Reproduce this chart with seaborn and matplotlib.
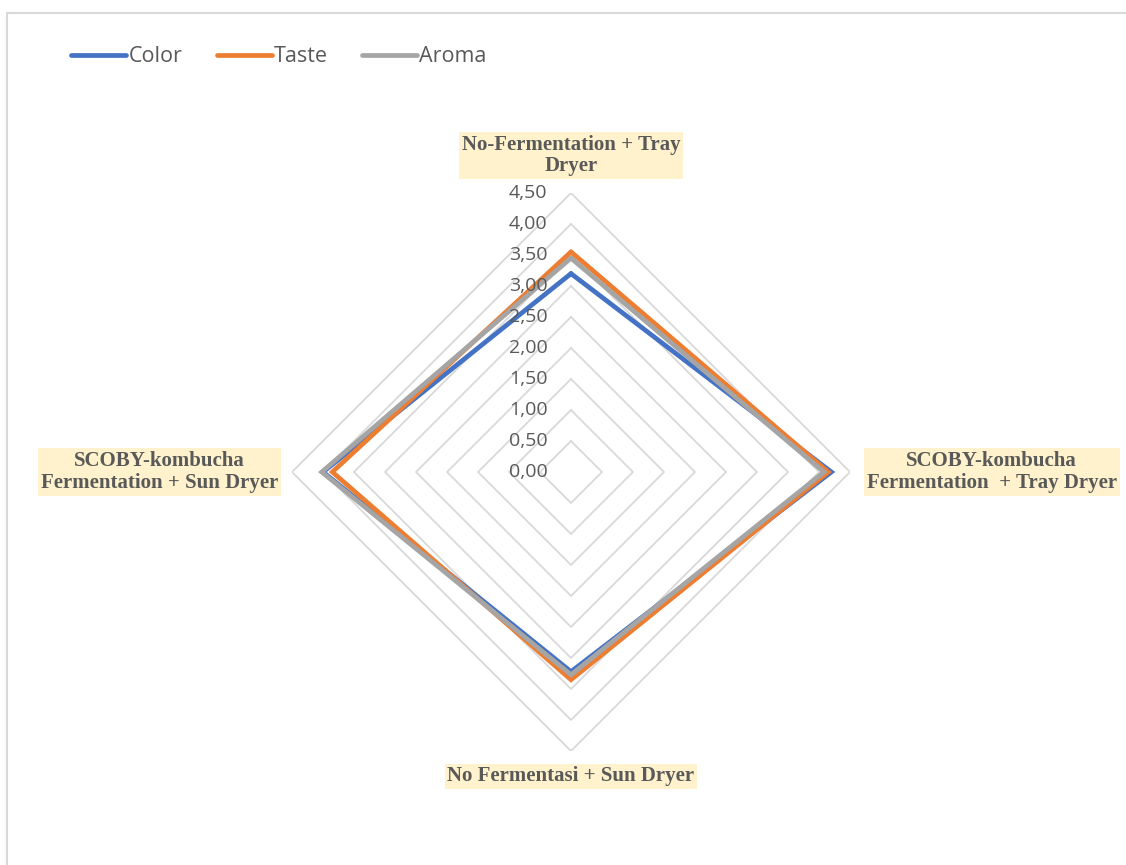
import numpy as np
import pandas as pd
import matplotlib
matplotlib.use("Agg")
import matplotlib.pyplot as plt
from matplotlib.patches import Rectangle
import seaborn as sns

# Sensory scores per drying / fermentation treatment
categories = [
    "No-Fermentation + Tray\nDryer",
    "SCOBY-kombucha\nFermentation  + Tray Dryer",
    "No Fermentasi + Sun Dryer",
    "SCOBY-kombucha\nFermentation + Sun Dryer",
]
series_names = ["Color", "Taste", "Aroma"]
color_scores = [3.20, 4.20, 3.22, 4.00]
taste_scores = [3.55, 4.15, 3.35, 3.85]
aroma_scores = [3.45, 4.08, 3.27, 4.02]
ring_values = [0.0, 0.5, 1.0, 1.5, 2.0, 2.5, 3.0, 3.5, 4.0, 4.5]
tick_labels = ["0,00", "0,50", "1,00", "1,50", "2,00", "2,50", "3,00", "3,50", "4,00", "4,50"]
palette = {"Color": "#4472C4", "Taste": "#ED7D31", "Aroma": "#A5A5A5"}

sns.set_theme(style="white")
plt.rcParams["font.family"] = ["Open Sans", "DejaVu Sans"]

W, H = 1126, 865
fig = plt.figure(figsize=(W / 100, H / 100), dpi=100)

# Outer chart frame
fig.patches.append(Rectangle((7 / W, -0.01), 1.02 - 7 / W, 1 - 13 / H + 0.01,
                             transform=fig.transFigure, fill=False,
                             edgecolor="#D9D9D9", linewidth=1.5, zorder=0))

cx, cy, rad = 571, 472, 279
ax = fig.add_axes([(cx - rad) / W, (H - cy - rad) / H, 2 * rad / W, 2 * rad / H],
                  projection="polar")
ax.set_theta_offset(np.pi / 2)
ax.set_theta_direction(-1)
ax.set_ylim(0, 4.5)
ax.grid(False)
ax.spines["polar"].set_visible(False)
ax.set_xticks([])
ax.set_yticks([])
ax.patch.set_alpha(0)

n = len(categories)
angles = np.arange(n) * 2 * np.pi / n
closed_angles = np.append(angles, 2 * np.pi)

# Diamond gridlines
for r in ring_values[1:]:
    ax.plot(closed_angles, [r] * (n + 1), color="#D9D9D9", linewidth=1.3, zorder=1)

# Series polygons
rows = []
for name, vals in zip(series_names, [color_scores, taste_scores, aroma_scores]):
    closed_vals = list(vals) + [vals[0]]
    for order, (t, v) in enumerate(zip(closed_angles, closed_vals)):
        rows.append({"series": name, "theta": t, "value": v, "order": order})
df = pd.DataFrame(rows)

for name in series_names:
    sub = df[df["series"] == name]
    sns.lineplot(data=sub, x="theta", y="value", sort=False, estimator=None,
                 color=palette[name], linewidth=3.4, ax=ax, zorder=3,
                 solid_joinstyle="miter", legend=False)
ax.set_xlabel("")
ax.set_ylabel("")
ax.set_ylim(0, 4.5)

# Radial value labels along the top axis
for r, lab in zip(ring_values, tick_labels):
    ax.annotate(lab, xy=(0, r), xytext=(-17, 0), textcoords="offset points",
                ha="right", va="center", fontsize=14, color="#595959")

# Category labels
label_style = dict(fontsize=15, fontweight="bold", color="#595959",
                   family=["Liberation Serif", "DejaVu Serif"], multialignment="center",
                   linespacing=1.12,
                   bbox=dict(facecolor="#FFF2CC", edgecolor="none", pad=2.0))
offsets = [((0, 12), "center", "bottom"),
           ((12, 0), "left", "center"),
           ((0, -11), "center", "top"),
           ((-10, 0), "right", "center")]
for ang, lab, (off, ha, va) in zip(angles, categories, offsets):
    ax.annotate(lab, xy=(ang, 4.5), xytext=off, textcoords="offset points",
                ha=ha, va=va, annotation_clip=False, **label_style)

# Legend
handles = [plt.Line2D([0], [0], color=palette[s], linewidth=3.4, solid_capstyle="round")
           for s in series_names]
fig.legend(handles, series_names, loc="upper left", bbox_to_anchor=(52 / W, 1 - 27 / H),
           ncol=3, frameon=False, fontsize=15.5, handlelength=2.55, handletextpad=0.1,
           columnspacing=1.6, labelcolor="#595959")

fig.savefig("out.png", dpi=100)
